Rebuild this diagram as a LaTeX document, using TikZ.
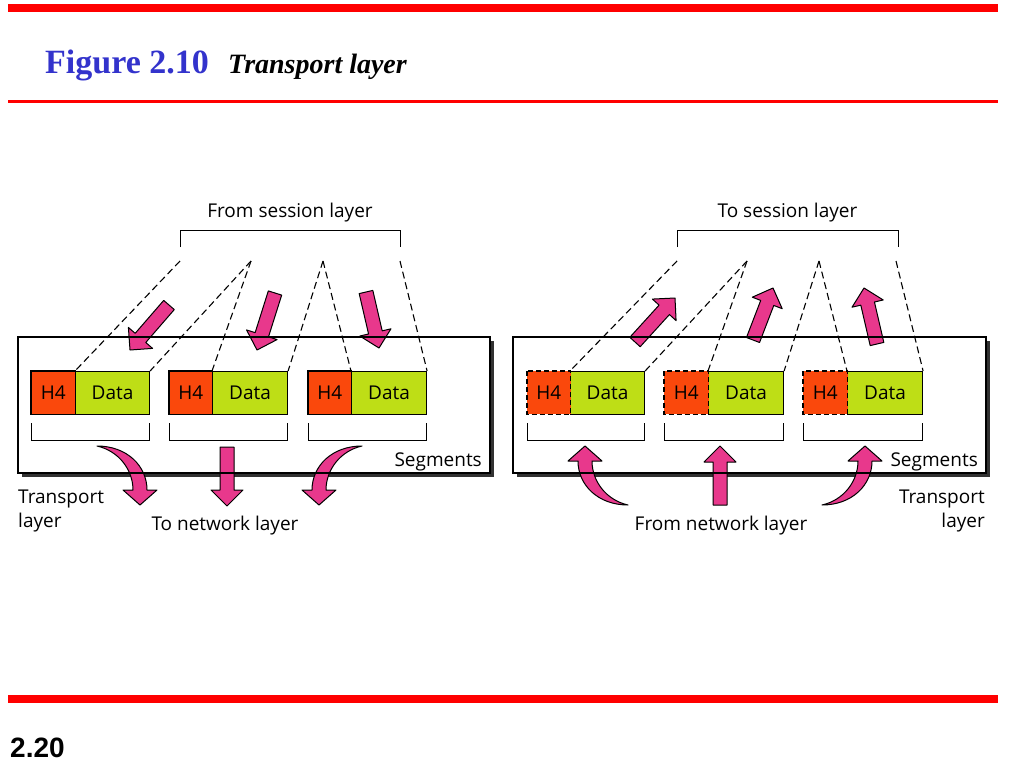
\documentclass[tikz,border=0pt]{standalone}
\usepackage{fontspec}
\setmainfont{Liberation Serif}
\newfontfamily\labfont{Open Sans}
\newfontfamily\numfont{Liberation Sans}
\usetikzlibrary{calc}
\definecolor{hred}{RGB}{250,72,12}
\definecolor{dgreen}{RGB}{190,222,22}
\definecolor{apink}{RGB}{232,56,140}
\definecolor{tblue}{RGB}{51,51,204}
\definecolor{rbar}{RGB}{255,0,0}
\definecolor{shadowc}{RGB}{50,50,50}
\tikzset{
  lab/.style={font=\fontsize{19}{21}\selectfont\labfont, inner sep=0pt},
  h4box/.style={fill=hred, minimum width=#1, minimum height=43pt, inner sep=0pt, anchor=north west, font=\fontsize{19}{20}\selectfont\labfont},
  databox/.style={fill=dgreen, draw=black, line width=1.1pt, minimum width=#1, minimum height=43pt, inner sep=0pt, anchor=north west, font=\fontsize{19}{20}\selectfont\labfont},
  segline/.style={line width=1.1pt},
  dashline/.style={dash pattern=on 7pt off 4pt, line width=1.1pt},
  pinkarrow/.style={fill=apink, draw=black, line width=1pt, line join=round},
  bracket/.style={line width=1pt},
}
\newcommand{\blockarr}[2]{%
  \coordinate (ba-c) at ($(#2)!16pt!(#1)$);
  \filldraw[pinkarrow] ($(#1)!7pt!90:(#2)$) -- ($(ba-c)!7pt!90:(#2)$) -- ($(ba-c)!16pt!90:(#2)$) -- (#2)
    -- ($(ba-c)!16pt!-90:(#2)$) -- ($(ba-c)!7pt!-90:(#2)$) -- ($(#1)!7pt!-90:(#2)$) -- cycle;}
\newcommand{\curvarr}[1]{%
  \begin{scope}[#1]
    \filldraw[pinkarrow] (0,0) .. controls (30,0) and (50,20) .. (50,44) -- (60,44) -- (43,59) -- (26,44)
      -- (36,44) .. controls (36,24) and (22,5) .. (0,0) -- cycle;
  \end{scope}}
\begin{document}
\begin{tikzpicture}[x=1pt,y=-1pt]
\useasboundingbox (0,0) rectangle (1024,768);
% bars
\fill[rbar] (8,4) rectangle (998,12);
\fill[rbar] (8,100) rectangle (998,102.5);
\fill[rbar] (8,695) rectangle (998,703);
% title
\node[anchor=base west, inner sep=0pt, text=tblue, font=\fontsize{34}{36}\selectfont\bfseries] (fig) at (45,73) {Figure 2.10};
\node[anchor=base west, inner sep=0pt, font=\fontsize{28}{30}\selectfont\bfseries\itshape] (ttl) at (228,73) {Transport layer};
\node[anchor=base west, inner sep=0pt, font=\fontsize{28}{30}\selectfont\numfont\bfseries] (pg) at (10,757) {2.20};

% ===== left panel =====
\fill[shadowc] (22,341) rectangle (494,477);
\fill[white] (18,337) rectangle (490,473);
\blockarr{169,305}{130,350}
\blockarr{275,293}{257,350}
\blockarr{366,292}{379,348}
\curvarr{shift={(97,446)}}
\blockarr{227,447}{227,506}
\curvarr{shift={(362,446)},xscale=-1}
\draw[line width=1.1pt] (18,337) rectangle (490,473);

\node[h4box=44pt] (lh1) at (31,371) {H4};
\node[databox=74pt] (ld1) at (75,371) {Data};
\node[h4box=43pt] (lh2) at (169,371) {H4};
\node[databox=75pt] (ld2) at (212,371) {Data};
\node[h4box=43pt] (lh3) at (308,371) {H4};
\node[databox=75pt] (ld3) at (351,371) {Data};
\draw[segline] (lh1.north west) rectangle (lh1.south east);
\draw[segline] (lh2.north west) rectangle (lh2.south east);
\draw[segline] (lh3.north west) rectangle (lh3.south east);

\draw[bracket] (31,423) -- (31,440) -- (149,440) -- (149,423);
\draw[bracket] (169,423) -- (169,440) -- (287,440) -- (287,423);
\draw[bracket] (308,423) -- (308,440) -- (426,440) -- (426,423);

\draw[bracket] (180,247) -- (180,230) -- (400,230) -- (400,247);
\coordinate (ls1) at (180,261);
\coordinate (ls2) at (251,261);
\coordinate (ls3) at (323,261);
\coordinate (ls4) at (400,261);
\draw[dashline] (ls1) -- (ld1.north west);
\draw[dashline] (ls2) -- (ld1.north east);
\draw[dashline] (ls2) -- (ld2.north west);
\draw[dashline] (ls3) -- (ld2.north east);
\draw[dashline] (ls3) -- (ld3.north west);
\draw[dashline] (ls4) -- (ld3.north east);

\node[lab, anchor=base] (lfrom) at (290,217) {From session layer};
\node[lab, anchor=base east] (lseg) at (482,466) {Segments};
\node[lab, anchor=base west] (ltr1) at (18,503) {Transport};
\node[lab, anchor=base west] (ltr2) at (18,527) {layer};
\node[lab, anchor=base] (lto) at (225,530) {To network layer};

% ===== right panel =====
\fill[shadowc] (517,341) rectangle (990,477);
\fill[white] (513,337) rectangle (986,473);
\blockarr{635,342}{675,298}
\blockarr{753,340}{773,288}
\blockarr{877,344}{864,288}
\curvarr{shift={(628,505)},xscale=-1,yscale=-1}
\blockarr{720,505}{720,446}
\curvarr{shift={(822,505)},yscale=-1}
\draw[line width=1.1pt] (513,337) rectangle (986,473);

\node[h4box=43pt] (rh1) at (527,371) {H4};
\node[databox=74pt] (rd1) at (570,371) {Data};
\node[h4box=44pt] (rh2) at (664,371) {H4};
\node[databox=75pt] (rd2) at (708,371) {Data};
\node[h4box=44pt] (rh3) at (803,371) {H4};
\node[databox=75pt] (rd3) at (847,371) {Data};
\fill[hred] ([xshift=-0.6pt]rh1.north east) rectangle ([xshift=0.6pt]rh1.south east);
\fill[hred] ([xshift=-0.6pt]rh2.north east) rectangle ([xshift=0.6pt]rh2.south east);
\fill[hred] ([xshift=-0.6pt]rh3.north east) rectangle ([xshift=0.6pt]rh3.south east);
\draw[segline, dash pattern=on 5pt off 3pt] (rh1.north west) rectangle (rh1.south east);
\draw[segline, dash pattern=on 5pt off 3pt] (rh2.north west) rectangle (rh2.south east);
\draw[segline, dash pattern=on 5pt off 3pt] (rh3.north west) rectangle (rh3.south east);

\draw[bracket] (527,423) -- (527,440) -- (644,440) -- (644,423);
\draw[bracket] (664,423) -- (664,440) -- (783,440) -- (783,423);
\draw[bracket] (803,423) -- (803,440) -- (922,440) -- (922,423);

\draw[bracket] (677,247) -- (677,230) -- (898,230) -- (898,247);
\coordinate (rs1) at (677,261);
\coordinate (rs2) at (747,261);
\coordinate (rs3) at (819,261);
\coordinate (rs4) at (896,261);
\draw[dashline] (rs1) -- (rd1.north west);
\draw[dashline] (rs2) -- (rd1.north east);
\draw[dashline] (rs2) -- (rd2.north west);
\draw[dashline] (rs3) -- (rd2.north east);
\draw[dashline] (rs3) -- (rd3.north west);
\draw[dashline] (rs4) -- (rd3.north east);

\node[lab, anchor=base] (rto) at (787.5,217) {To session layer};
\node[lab, anchor=base east] (rseg) at (978,466) {Segments};
\node[lab, anchor=base east] (rtr1) at (985,503) {Transport};
\node[lab, anchor=base east] (rtr2) at (985,527) {layer};
\node[lab, anchor=base] (rfrom) at (721,530) {From network layer};
\end{tikzpicture}
\end{document}
